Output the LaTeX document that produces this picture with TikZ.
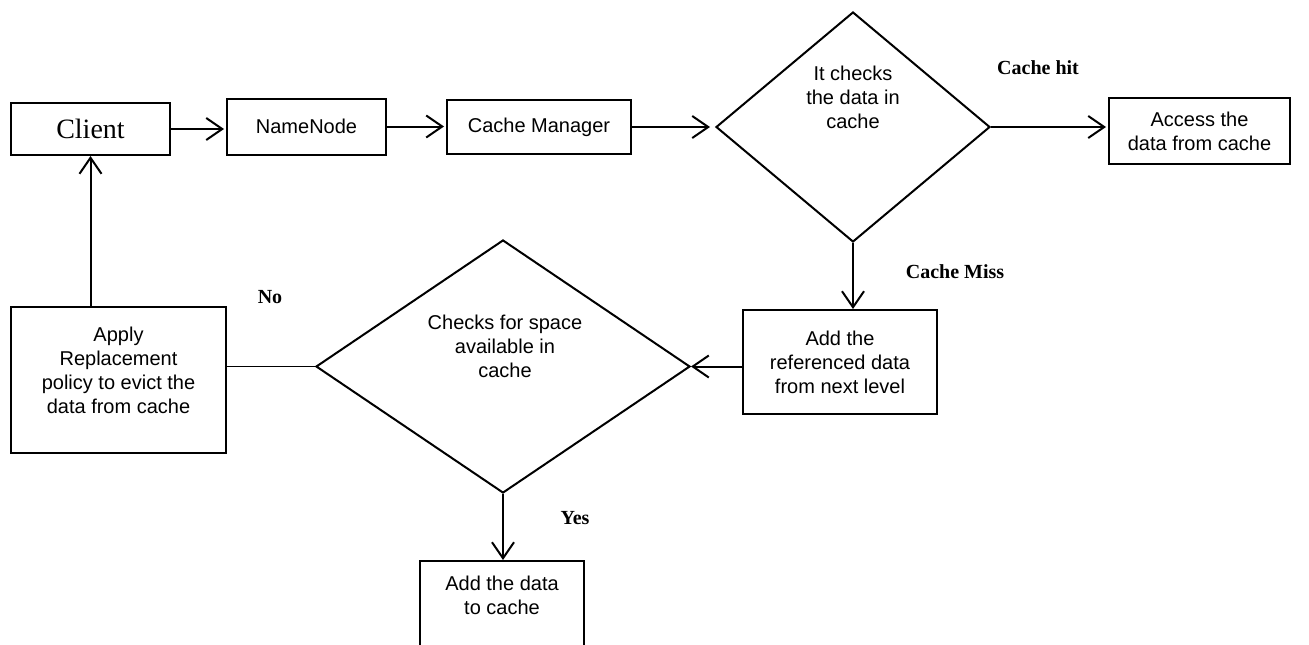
\documentclass[tikz,border=0pt]{standalone}
\usepackage{fontspec}
\setmainfont{Liberation Serif}
\newfontfamily\arialfont{Liberation Sans}
\usetikzlibrary{shapes.geometric,arrows.meta,calc}

\begin{document}
\begin{tikzpicture}[x=1pt,y=-1pt,
  box/.style={draw, line width=2pt, inner sep=0pt, align=center,
    font=\arialfont\fontsize{20}{24}\selectfont},
  txt/.style={inner sep=0pt, align=center, font=\arialfont\fontsize{20}{24}\selectfont},
  decision/.style={draw, diamond, line width=2pt, inner sep=0pt},
  tag/.style={inner sep=0pt, font=\bfseries\fontsize{20}{24}\selectfont},
  arr/.style={line width=2pt, -{Straight Barb[length=16pt,width=22pt]}},
]
\path[use as bounding box, clip] (0,0) rectangle (1309,645);

% top row
\node[box, font=\fontsize{28}{32}\selectfont, minimum width=159, minimum height=52] (client) at (90.5,129) {Client};
\node[box, minimum width=159, minimum height=56] (namenode) at (306.5,126.5) {NameNode};
\node[box, minimum width=184, minimum height=54] (cm) at (539,127) {Cache Manager};
\node[decision, minimum width=274, minimum height=230] (d1) at (853,127) {};
\node[txt] (d1text) at (853,97) {It checks\\the data in\\cache};
\node[box, minimum width=181, minimum height=66] (access) at (1199.5,131) {Access the\\data from cache};

% middle row
\node[box, minimum width=194, minimum height=104] (refd) at (840,362) {Add the\\referenced data\\from next level};
\node[decision, minimum width=374, minimum height=253] (d2) at (503,366.5) {};
\node[txt] (d2text) at (505,346) {Checks for space\\available in\\cache};
\node[box, minimum width=215, minimum height=146] (apply) at (118.5,380) {};
\node[txt] (applytext) at (118.5,370) {Apply\\Replacement\\policy to evict the\\data from cache};

% bottom box, running past the lower edge
\node[box, anchor=north, minimum width=164, minimum height=150] (add) at (502,560) {};
\node[txt] (addtext) at (502,595) {Add the data\\to cache};

% branch labels
\node[tag] (hit) at (1038,68) {Cache hit};
\node[tag] (miss) at (955,272) {Cache Miss};
\node[tag] (no) at (270,297) {No};
\node[tag] (yes) at (575,518) {Yes};

% connectors
\draw[arr, shorten >=2pt] (client.east) -- (client.east -| namenode.west);
\draw[arr, shorten >=2pt] (namenode.east) -- (namenode.east -| cm.west);
\draw[arr, shorten >=5pt] (cm.east) -- (cm.east -| d1.west);
\draw[arr, shorten >=2pt] (d1.east) -- (d1.east -| access.west);
\draw[arr] (d1.south) -- (d1.south |- refd.north);
\draw[arr] (d2.east -| refd.west) -- (d2.east);
\draw[line width=1pt] (d2.west) -- (d2.west -| apply.east);
\draw[arr] (apply.north -| client.south) -- (client.south);
\draw[arr] (d2.south) -- (d2.south |- add.north);
\end{tikzpicture}
\end{document}
